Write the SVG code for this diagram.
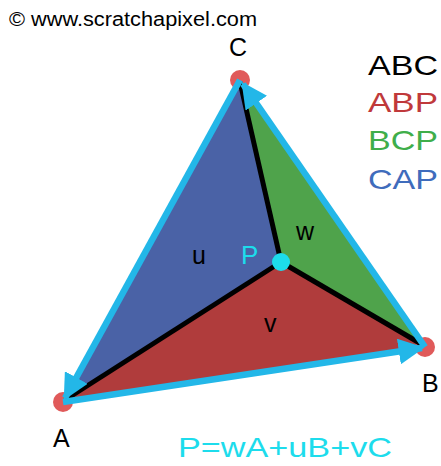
<svg xmlns="http://www.w3.org/2000/svg" width="441" height="466" viewBox="0 0 441 466">
<style>
text{font-family:"Liberation Sans",Arial,sans-serif}
.lbl{font-size:25px;fill:#000}
.leg{font-size:28px}
.edge{stroke:#23b7e8;stroke-width:6.5;fill:none;stroke-linejoin:round}
.spoke{stroke:#000;stroke-width:5;fill:none}
.vtx{fill:#e05a5a}
</style>
<defs>
<marker id="ah" viewBox="0 0 10 10" refX="9" refY="5" markerWidth="4" markerHeight="4" orient="auto" markerUnits="strokeWidth">
<path d="M0,0L10,5L0,10z" fill="#23b7e8"/>
</marker>
</defs>
<rect width="441" height="466" fill="#fff"/>
<text x="9" y="26" font-size="20" textLength="248" lengthAdjust="spacingAndGlyphs" fill="#000">© www.scratchapixel.com</text>
<g id="regions">
<polygon id="CAP" points="240,80 63,402 281,262" fill="#4a62a6"/>
<polygon id="ABP" points="63,402 425,347 281,262" fill="#b03c3c"/>
<polygon id="BCP" points="425,347 240,80 281,262" fill="#4fa34b"/>
</g>
<g id="vertices">
<circle id="vA" class="vtx" cx="63" cy="402" r="10"/>
<circle id="vB" class="vtx" cx="425" cy="347" r="10"/>
<circle id="vC" class="vtx" cx="240" cy="80" r="10"/>
</g>
<g id="connectors">
<line class="spoke" x1="281" y1="262" x2="240" y2="82"/>
<line class="spoke" x1="281" y1="262" x2="65" y2="400"/>
<line class="spoke" x1="281" y1="262" x2="423" y2="345"/>
<path class="edge" d="M63,402 L422,348" marker-end="url(#ah)"/>
<path class="edge" d="M425,347 L243,84" marker-end="url(#ah)"/>
<path class="edge" d="M240,80 L65,398" marker-end="url(#ah)"/>
</g>
<g id="P">
<circle cx="281" cy="262" r="9" fill="#1ddcec"/>
<text x="241" y="264" font-size="26" fill="#1ddcec">P</text>
</g>
<g id="labels">
<text class="lbl" x="229" y="56">C</text>
<text class="lbl" x="53" y="447">A</text>
<text class="lbl" x="422" y="392">B</text>
<text class="lbl" x="192" y="264">u</text>
<text class="lbl" x="296" y="240">w</text>
<text class="lbl" x="264" y="332">v</text>
</g>
<g id="legend">
<text class="leg" x="368" y="75" textLength="70" lengthAdjust="spacingAndGlyphs" fill="#000">ABC</text>
<text class="leg" x="368" y="112" textLength="70" lengthAdjust="spacingAndGlyphs" fill="#c0393b">ABP</text>
<text class="leg" x="368" y="150" textLength="70" lengthAdjust="spacingAndGlyphs" fill="#3fae4a">BCP</text>
<text class="leg" x="368" y="189" textLength="70" lengthAdjust="spacingAndGlyphs" fill="#3f6cbc">CAP</text>
</g>
<text x="178" y="457" font-size="28" textLength="214" lengthAdjust="spacingAndGlyphs" fill="#1ddcec">P=wA+uB+vC</text>
</svg>
